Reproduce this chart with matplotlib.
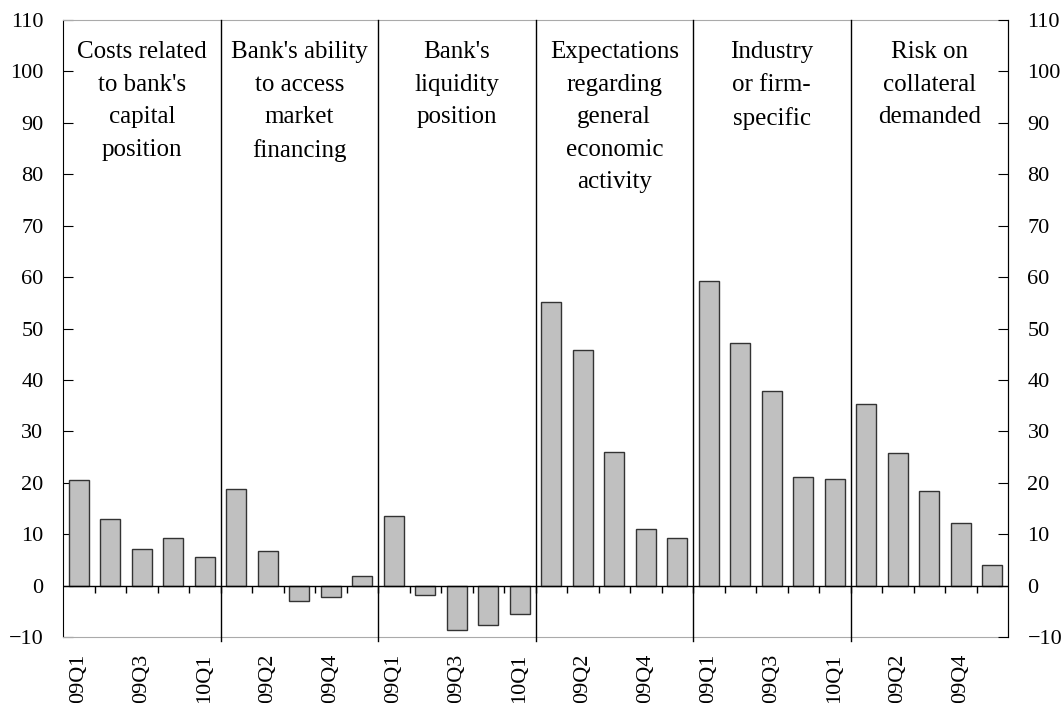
import matplotlib
matplotlib.use("Agg")
import matplotlib.pyplot as plt
import numpy as np

plt.rcParams['font.family'] = ['Liberation Serif', 'DejaVu Serif']

groups = ["Costs related\nto bank's\ncapital\nposition",
          "Bank's ability\nto access\nmarket\nfinancing",
          "Bank's\nliquidity\nposition",
          "Expectations\nregarding\ngeneral\neconomic\nactivity",
          "Industry\nor firm-\nspecific",
          "Risk on\ncollateral\ndemanded"]
quarters = ["09Q1", "09Q2", "09Q3", "09Q4", "10Q1"]
values = [
    [20.5, 13.0, 7.2, 9.3, 5.6],
    [18.8, 6.8, -3.0, -2.3, 1.9],
    [13.5, -1.8, -8.7, -7.6, -5.6],
    [55.2, 45.8, 26.0, 11.0, 9.3],
    [59.3, 47.1, 37.9, 21.1, 20.7],
    [35.3, 25.8, 18.4, 12.1, 4.1],
]

vals = [v for g in values for v in g]
labels = [q for _ in groups for q in quarters]
n = len(vals)
x = np.arange(n)
ng = len(quarters)

fig = plt.figure(figsize=(10.64, 7.03), dpi=100)
ax = fig.add_axes([63/1064, 1-637/703, (1008-63)/1064, (637-20)/703])

ax.bar(x, vals, width=0.63, color='#C0C0C0', edgecolor='#333333', linewidth=1.0, zorder=3)
ax.set_xlim(-0.5, n - 0.5)
ax.set_ylim(-10, 110)
ax.set_yticks(np.arange(-10, 111, 10))

# zero line with boundary ticks
ax.axhline(0, color='black', linewidth=1.0, zorder=4)
bounds = np.arange(0.5, n - 0.5, 1)
ax.vlines(bounds, -1.4, 0, color='black', linewidth=1.0, zorder=4)

# group separators
for b in np.arange(ng - 0.5, n - 0.5, ng):
    ax.plot([b, b], [-10.8, 110], color='black', linewidth=1.0, clip_on=False, zorder=4)

# group titles
for i, g in enumerate(groups):
    ax.text(i * ng + (ng - 1) / 2, 105.9, g, ha='center', va='top', fontsize=18,
            linespacing=1.62)

# x labels every other bar
ax.set_xticks(x[::2])
ax.set_xticklabels(labels[::2], rotation=90, fontsize=16)
ax.tick_params(axis='x', length=0, pad=12)

ax.tick_params(axis='y', direction='in', length=7, labelsize=16, pad=14,
               left=True, right=False)
for s in ['top', 'bottom']:
    ax.spines[s].set_color('#aaaaaa')
ax.spines['left'].set_color('black')
ax.spines['right'].set_color('black')

ax2 = ax.twinx()
ax2.set_ylim(-10, 110)
ax2.set_yticks(np.arange(-10, 111, 10))
ax2.tick_params(axis='y', direction='in', length=7, labelsize=16, pad=14)
for t in ax2.get_yticklabels():
    t.set_horizontalalignment('left')
for s in ['top', 'bottom', 'left']:
    ax2.spines[s].set_visible(False)

fig.savefig('out.png', dpi=100)
